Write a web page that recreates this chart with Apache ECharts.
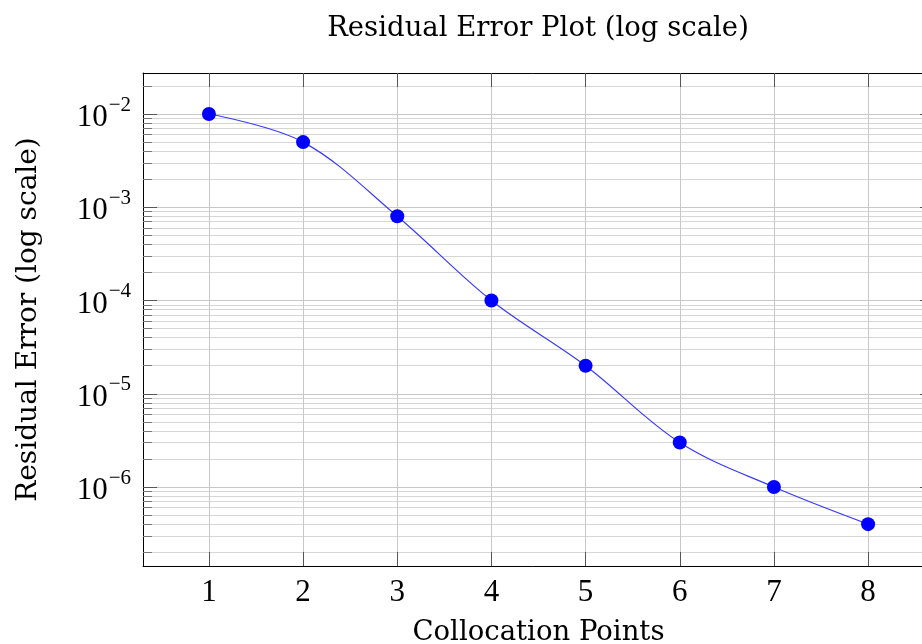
<!DOCTYPE html>
<html>
<head>
<meta charset="utf-8">
<script src="https://cdn.jsdelivr.net/npm/echarts@6/dist/echarts.min.js"></script>
<style>
  html, body { margin: 0; padding: 0; background: #fff; }
  #chart { width: 922px; height: 644px; }
</style>
</head>
<body>
<div id="chart"></div>
<script>
const points = [1, 2, 3, 4, 5, 6, 7, 8];
const residuals = [1e-2, 5e-3, 8e-4, 1e-4, 2e-5, 3e-6, 1e-6, 4e-7];
const decades = [-6, -5, -4, -3, -2];
const minorFactors = [2, 3, 4, 5, 6, 7, 8, 9];

const NUM_FONT = 'Liberation Serif';
const TXT_FONT = 'DejaVu Serif';
const yMin = -6.847, yMax = -1.56;

// minor positions 2..9 x 10^k, in log10 space
const minorTicks = [];
[-7, -6, -5, -4, -3, -2].forEach(k => {
    minorFactors.forEach(f => {
        const v = Math.log10(f) + k;
        if (v > yMin && v < yMax) minorTicks.push(v);
    });
});

function expLabel(v) {
    const n = Math.round(v);
    return '{b|10}{s|\u2212' + Math.abs(n) + '}';
}

const chart = echarts.init(document.getElementById('chart'));

const majorY = (pos, labels) => ({
    type: 'value', position: pos, min: yMin, max: yMax,
    axisLine: { show: true, lineStyle: { color: '#000', width: 1 } },
    axisTick: { show: true, inside: true, length: 14, customValues: decades, lineStyle: { color: '#555' } },
    axisLabel: {
        show: labels, customValues: decades, margin: 12, formatter: expLabel,
        rich: {
            b: { fontFamily: NUM_FONT, fontSize: 31, color: '#000', padding: [8, 0, 0, 0] },
            s: { fontFamily: NUM_FONT, fontSize: 21, color: '#000', verticalAlign: 'top', padding: [0, 0, 0, 1] }
        }
    },
    splitLine: { show: labels, lineStyle: { color: '#c8c8c8', width: 1 } }
});

const minorY = (pos, grid) => ({
    type: 'value', position: pos, min: yMin, max: yMax,
    axisLine: { show: false },
    axisTick: { show: true, inside: true, length: 9, customValues: minorTicks, lineStyle: { color: '#777' } },
    axisLabel: { show: false },
    splitLine: { show: grid, lineStyle: { color: '#d6d6d6', width: 1 } }
});

chart.setOption({
    animation: false,
    title: {
        text: 'Residual Error Plot (log scale)',
        left: 533, top: 10, textAlign: 'center',
        textStyle: { fontFamily: TXT_FONT, fontSize: 27.5, fontWeight: 'normal', color: '#000' }
    },
    grid: { left: 143, top: 73, width: 791, height: 493, containLabel: false, outerBoundsMode: 'none' },
    xAxis: [
        {
            type: 'value', min: 0.3, max: 8.7, position: 'bottom',
            name: 'Collocation Points', nameLocation: 'middle', nameGap: 53,
            nameTextStyle: { fontFamily: TXT_FONT, fontSize: 27.5, color: '#000' },
            axisLine: { show: true, lineStyle: { color: '#000', width: 1 } },
            axisTick: { show: true, inside: true, length: 14, customValues: points, lineStyle: { color: '#555' } },
            axisLabel: { customValues: points, margin: 11, fontFamily: NUM_FONT, fontSize: 31, color: '#000' },
            splitLine: { show: true, lineStyle: { color: '#c8c8c8', width: 1 } }
        },
        {
            type: 'value', min: 0.3, max: 8.7, position: 'top',
            axisLine: { show: true, lineStyle: { color: '#000', width: 1 } },
            axisTick: { show: true, inside: true, length: 14, customValues: points, lineStyle: { color: '#555' } },
            axisLabel: { show: false },
            splitLine: { show: false }
        }
    ],
    yAxis: [
        Object.assign(majorY('left', true), {
            name: 'Residual Error (log scale)', nameLocation: 'middle', nameGap: 100,
            nameTextStyle: { fontFamily: TXT_FONT, fontSize: 28, color: '#000' }
        }),
        minorY('left', true),
        majorY('right', false),
        minorY('right', false)
    ],
    series: [{
        type: 'line',
        xAxisIndex: 0, yAxisIndex: 0,
        data: points.map((p, i) => [p, Math.log10(residuals[i])]),
        smooth: 0.35,
        symbol: 'circle', symbolSize: 14,
        lineStyle: { color: '#3a3aff', width: 1.2 },
        itemStyle: { color: '#0000ff' },
        z: 10
    }]
});
</script>
</body>
</html>
